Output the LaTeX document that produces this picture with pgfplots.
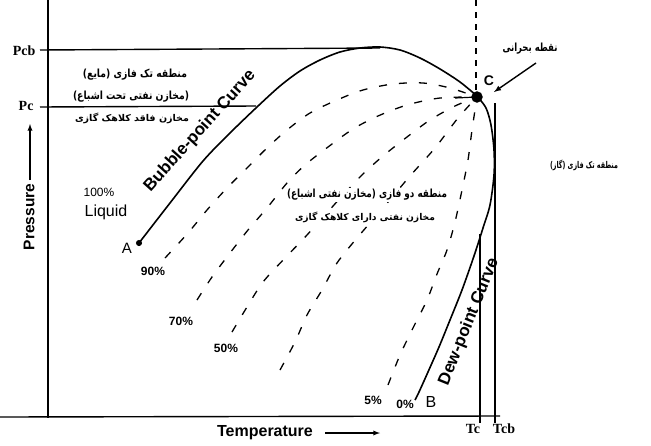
\documentclass[border=0pt]{standalone}
\usepackage{pgfplots}
\pgfplotsset{compat=1.18}
\usepackage{fontspec}
\setmainfont{Liberation Sans}
\newfontfamily\serifb{Liberation Serif}
\newfontfamily\arabicfont[Script=Arabic]{DejaVu Sans}
\TeXXeTstate=1
% Persian label squeezed to the width it has in the reference
\newcommand{\fa}[2]{\resizebox{#1pt}{8.5pt}{\arabicfont\bfseries #2}}
\begin{document}
\begin{tikzpicture}
\begin{axis}[
  width=651pt, height=445pt, scale only axis,
  xmin=0, xmax=651, ymin=0, ymax=445, y dir=reverse,
  hide axis, clip=false,
  cycle list={{black}},
  every axis plot/.append style={line width=1.4pt},
]
% axes
\addplot coordinates {(48,0) (48,418)};
\addplot coordinates {(0,417) (500,416)};
% pressure and temperature levels
\addplot coordinates {(40,50) (380,48)};
\addplot coordinates {(40,107) (256,106)};
\addplot coordinates {(480,234) (480,423)};
\addplot coordinates {(495,103) (495,423)};
\addplot[line width=1.2pt, dash pattern=on 6pt off 6pt] coordinates {(476,0) (476,94)};
% bubble-point curve
\addplot[smooth, line width=1.6pt] coordinates {
  (139,243) (170,203) (203,161) (230,133) (257,107) (280,86) (300,71)
  (320,60) (340,52) (360,48) (380,47) (400,50) (420,58) (440,69)
  (460,82) (477,96)};
% dew-point curve
\addplot[smooth, line width=1.6pt] coordinates {
  (477,96) (486,108) (491,125) (494,150) (494,175) (490,205) (483,228)
  (474,256) (462,290) (450,320) (439,347) (428,372) (419,392) (415,400)};
% quality lines
\pgfplotsset{ql/.style={smooth, line width=1.3pt, dash pattern=on 8pt off 12pt}}
\addplot[ql] coordinates {(165,258) (188,233) (207,210) (227,188) (247,168)
  (267,148) (287,130) (310,113) (337,100) (363,90) (393,84) (423,83) (450,88) (477,97)};
\addplot[ql] coordinates {(197,300) (212,277) (230,253) (248,230) (267,208)
  (287,183) (305,165) (328,147) (353,129) (378,116) (407,105) (440,98) (477,97)};
\addplot[ql] coordinates {(232,332) (247,307) (263,282) (285,258) (307,235)
  (343,195) (363,174) (383,156) (407,137) (430,120) (455,106) (477,97)};
\addplot[ql] coordinates {(280,370) (295,342) (307,315) (322,290) (337,263)
  (357,238) (383,208) (410,176) (435,148) (458,118) (477,97)};
\addplot[ql] coordinates {(388,385) (400,355) (413,328) (427,300) (437,274)
  (447,250) (455,222) (462,190) (468,160) (472,130) (477,97)};
\addplot[line width=1.2pt] coordinates {(455,98) (477,97)};
% points
\addplot[only marks, mark=*, mark size=5pt] coordinates {(477,97)};
\addplot[only marks, mark=*, mark size=2.3pt] coordinates {(139,243)};
% annotation arrows
\draw[line width=1.3pt, -latex] (axis cs:30,180) -- (axis cs:30,124);
\draw[line width=1.3pt, -latex] (axis cs:325,433) -- (axis cs:380,433);
\draw[line width=1.4pt, -latex] (axis cs:536,63) -- (axis cs:494,92);
% labels
\node[font=\serifb\bfseries\fontsize{14}{14}\selectfont, anchor=east] at (axis cs:39,51) {Pcb};
\node[font=\serifb\bfseries\fontsize{14}{14}\selectfont, anchor=east] at (axis cs:37,106) {Pc};
\node[font=\serifb\bfseries\fontsize{14}{14}\selectfont] at (axis cs:473,429) {Tc};
\node[font=\serifb\bfseries\fontsize{14}{14}\selectfont] at (axis cs:504,429) {Tcb};
\node[font=\bfseries\fontsize{15.5}{15.5}\selectfont, rotate=90] at (axis cs:29,217) {Pressure};
\node[font=\bfseries\fontsize{16}{16}\selectfont] at (axis cs:265,433) {Temperature};
\node[font=\bfseries\fontsize{17}{17}\selectfont, rotate=48] at (axis cs:200,131) {Bubble-point Curve};
\node[font=\bfseries\fontsize{17}{17}\selectfont, rotate=68] at (axis cs:469,322) {Dew-point Curve};
\node[font=\fontsize{12}{12}\selectfont] at (axis cs:99,192) {100\%};
\node[font=\fontsize{16}{16}\selectfont] at (axis cs:106,212) {Liquid};
\node[font=\fontsize{15}{15}\selectfont] at (axis cs:127,248) {A};
\node[font=\fontsize{16}{16}\selectfont] at (axis cs:431,402) {B};
\node[font=\bfseries\fontsize{14}{14}\selectfont] at (axis cs:489,81) {C};
\node[font=\bfseries\fontsize{12}{12}\selectfont] at (axis cs:153,271) {90\%};
\node[font=\bfseries\fontsize{12}{12}\selectfont] at (axis cs:181,321) {70\%};
\node[font=\bfseries\fontsize{12}{12}\selectfont] at (axis cs:226,348) {50\%};
\node[font=\bfseries\fontsize{12}{12}\selectfont] at (axis cs:373,400) {5\%};
\node[font=\bfseries\fontsize{12}{12}\selectfont] at (axis cs:405,404) {0\%};
% Persian labels
\node at (axis cs:135,75) {\fa{104}{\beginR منطقه تک فازی (مایع)\endR}};
\node at (axis cs:131,97) {\fa{116}{\beginR (مخازن نفتی تحت اشباع)\endR}};
\node at (axis cs:132,118) {\fa{114}{\beginR مخازن فاقد کلاهک گازی\endR}};
\node at (axis cs:530,49) {\fa{55}{\beginR نقطه بحرانی\endR}};
\node at (axis cs:584,165) {\fa{68}{\beginR منطقه تک فازی (گاز)\endR}};
\node[fill=white, inner sep=1.5pt] at (axis cs:367,195) {\fa{160}{\beginR منطقه دو فازی (مخازن نفتی اشباع)\endR}};
\node[fill=white, inner sep=1.5pt] at (axis cs:365,217) {\fa{140}{\beginR مخازن نفتی دارای کلاهک گازی\endR}};
\end{axis}
\pgfresetboundingbox
\useasboundingbox (current axis.south west) rectangle (current axis.north east);
\end{tikzpicture}
\end{document}
